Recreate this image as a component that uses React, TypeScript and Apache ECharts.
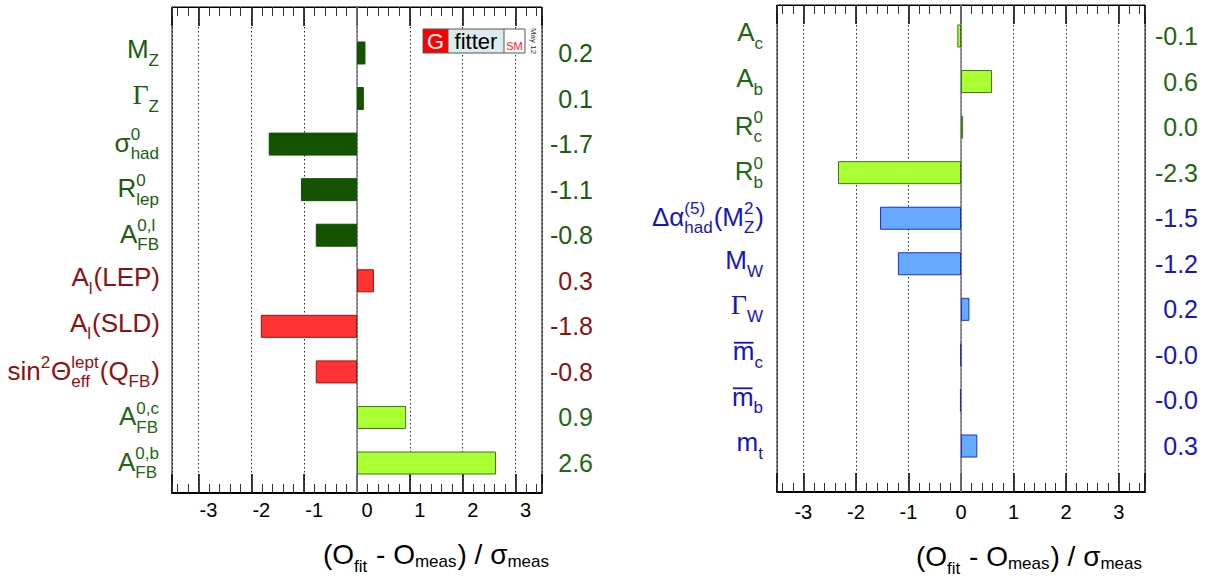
import React, { useEffect, useRef } from 'react';
import * as echarts from 'echarts';

// ---------------- data ----------------
const leftCategories = [
  'M_{Z}',
  'Γ_{Z}',
  'σ^{0}_{had}',
  'R^{0}_{lep}',
  'A^{0,l}_{FB}',
  'A_{l}(LEP)',
  'A_{l}(SLD)',
  'sin^{2}Θ^{lept}_{eff}(Q_{FB})',
  'A^{0,c}_{FB}',
  'A^{0,b}_{FB}',
];
const leftValues = [0.16, 0.13, -1.67, -1.06, -0.78, 0.32, -1.82, -0.78, 0.93, 2.63];
const leftGroups = ['dark', 'dark', 'dark', 'dark', 'dark', 'red', 'red', 'red', 'lime', 'lime'];

const rightCategories = [
  'A_{c}',
  'A_{b}',
  'R^{0}_{c}',
  'R^{0}_{b}',
  'Δα^{(5)}_{had}(M^{2}_{Z})',
  'M_{W}',
  'Γ_{W}',
  '\\bar{m}_{c}',
  '\\bar{m}_{b}',
  'm_{t}',
];
const rightValues = [-0.07, 0.59, 0.04, -2.34, -1.54, -1.2, 0.16, -0.01, -0.02, 0.31];
const rightGroups = ['lime', 'lime', 'lime', 'lime', 'blue', 'blue', 'blue', 'blue', 'blue', 'blue'];

const axisTitle = '(O_{fit} - O_{meas}) / σ_{meas}';
const pullMin = -3.5;
const pullMax = 3.5;

// ---------------- styles ----------------
const groupStyle: Record<string, { fill: string; border: string; text: string }> = {
  dark: { fill: '#135200', border: '#135200', text: '#1d5c0f' },
  red: { fill: '#ff3333', border: '#a01010', text: '#8c1212' },
  lime: { fill: '#aaff33', border: '#3a7a18', text: '#246614' },
  blue: { fill: '#66aaff', border: '#1a30cc', text: '#1616c0' },
};
const SANS = '"Liberation Sans", Arial, Helvetica, sans-serif';
const SERIF = '"Liberation Serif", "Times New Roman", serif';

type Seg =
  | { kind: 'main'; text: string; bar?: boolean }
  | { kind: 'script'; sup?: string; sub?: string };

function parseMarkup(s: string): Seg[] {
  const segs: Seg[] = [];
  let i = 0;
  let buf = '';
  const flush = () => {
    if (buf) {
      segs.push({ kind: 'main', text: buf });
      buf = '';
    }
  };
  const readGroup = () => {
    if (s[i] === '{') {
      const j = s.indexOf('}', i);
      const g = s.slice(i + 1, j);
      i = j + 1;
      return g;
    }
    return s[i++];
  };
  while (i < s.length) {
    const c = s[i];
    if (c === '\\' && s.startsWith('\\bar', i)) {
      flush();
      i += 4;
      segs.push({ kind: 'main', text: readGroup(), bar: true });
      continue;
    }
    if (c === '_' || c === '^') {
      flush();
      const last = segs[segs.length - 1] as any;
      let target: any;
      if (last && last.kind === 'script' && !(c === '_' ? last.sub : last.sup)) target = last;
      else {
        target = { kind: 'script' };
        segs.push(target);
      }
      i++;
      const g = readGroup();
      if (c === '_') target.sub = g;
      else target.sup = g;
      continue;
    }
    buf += c;
    i++;
  }
  flush();
  return segs;
}

let measureCtx: CanvasRenderingContext2D | null = null;
function textWidth(t: string, size: number, family: string) {
  if (!measureCtx) measureCtx = document.createElement('canvas').getContext('2d');
  measureCtx!.font = `${size}px ${family}`;
  return measureCtx!.measureText(t).width;
}

function buildLabel(
  markup: string,
  rightX: number,
  centerY: number,
  color: string,
  F: number,
  S: number,
  opts: { rise?: number; drop?: (t: string) => number; baseline?: number } = {}
) {
  const segs = parseMarkup(markup);
  const rise = opts.rise ?? 11;
  const dropFn = opts.drop ?? (() => 8);
  const pieces: any[] = [];
  let x = 0;
  let top = -0.72 * F;
  let bottom = 0;
  for (const seg of segs) {
    if (seg.kind === 'main') {
      const runs = seg.text.split(/(Γ)/).filter(Boolean);
      for (const r of runs) {
        const fam = r === 'Γ' ? SERIF : SANS;
        const size = r === 'Γ' ? F + 2 : F;
        const w = textWidth(r, size, fam);
        pieces.push({ text: r, x, base: 0, size, family: fam, bar: seg.bar, w });
        x += w;
      }
    } else {
      let w = 0;
      if (seg.sup) {
        w = Math.max(w, textWidth(seg.sup, S, SANS));
        pieces.push({ text: seg.sup, x, base: -rise, size: S, family: SANS });
        top = Math.min(top, -rise - 0.72 * S);
      }
      if (seg.sub) {
        const d = dropFn(seg.sub);
        w = Math.max(w, textWidth(seg.sub, S, SANS));
        pieces.push({ text: seg.sub, x, base: d, size: S, family: SANS });
        bottom = Math.max(bottom, d);
      }
      x += w + 1;
    }
  }
  const x0 = rightX - x;
  const baseline = opts.baseline ?? centerY - (top + bottom) / 2;
  const els: any[] = [];
  for (const p of pieces) {
    els.push({
      type: 'text',
      x: x0 + p.x,
      y: baseline + p.base - 0.3465 * p.size,
      silent: true,
      style: {
        text: p.text,
        fill: color,
        fontSize: p.size,
        fontFamily: p.family,
        align: 'left',
        verticalAlign: 'middle',
      },
    });
    if (p.bar) {
      const yb = baseline - 0.52 * F - 4;
      els.push({
        type: 'line',
        silent: true,
        shape: { x1: x0 + p.x + 1, y1: yb, x2: x0 + p.x + p.w - 1, y2: yb },
        style: { stroke: color, lineWidth: 1.8 },
      });
    }
  }
  return els;
}

const panels = [
  {
    frame: { left: 172, right: 665, top: 7, bottom: 86 },
    bars: { left: 172, right: 665, top: 30.2, bottom: 93.2 },
    cats: leftCategories,
    vals: leftValues,
    groups: leftGroups,
    tickLabelPad: 20,
    tickLabelMargin: 7,
    valueMargin: 51,
    labelRight: 160,
    titleRight: 550,
    titleBaseline: 564,
  },
  {
    frame: { left: 777, right: 62, top: 5, bottom: 87 },
    bars: { left: 777, right: 62, top: 13.2, bottom: 110.2 },
    cats: rightCategories,
    vals: rightValues,
    groups: rightGroups,
    tickLabelPad: 0,
    tickLabelMargin: 10,
    valueMargin: 53,
    labelRight: 764,
    titleRight: 1143,
    titleBaseline: 566,
  },
];

function buildOption() {
  const grid: any[] = [];
  const xAxis: any[] = [];
  const yAxis: any[] = [];
  const series: any[] = [];
  const catAxisIdx: number[] = [];
  panels.forEach((p) => {
    const gF = grid.length;
    grid.push({ ...p.frame, show: true, borderColor: '#000', borderWidth: 1 });
    const gB = grid.length;
    grid.push({ ...p.bars, show: false });
    const base = { type: 'value', min: pullMin, max: pullMax, gridIndex: gF };
    const majorTick = { show: true, inside: true, length: 19, lineStyle: { color: '#000', width: 1.5 } };
    const minorTick = { show: true, inside: true, length: 9, lineStyle: { color: '#333', width: 1 } };
    const xMajor = xAxis.length;
    xAxis.push({
      ...base,
      position: 'bottom',
      splitNumber: 7,
      axisLine: { show: true, onZero: false, lineStyle: { color: '#000', width: 2 } },
      axisTick: majorTick,
      axisLabel: {
        show: true,
        formatter: (v: number) => (Number.isInteger(v) ? String(v) : ''),
        fontSize: 20,
        color: '#000',
        fontFamily: SANS,
        margin: p.tickLabelMargin,
        padding: [0, 0, 0, p.tickLabelPad],
      },
      splitLine: { show: true, lineStyle: { color: '#222', type: [1.5, 2.5], width: 1 } },
    });
    xAxis.push({
      ...base,
      position: 'bottom',
      splitNumber: 35,
      axisLine: { show: false },
      axisTick: minorTick,
      axisLabel: { show: false },
      splitLine: { show: false },
    });
    xAxis.push({
      ...base,
      position: 'top',
      splitNumber: 7,
      axisLine: { show: true, onZero: false, lineStyle: { color: '#000', width: 1 } },
      axisTick: majorTick,
      axisLabel: { show: false },
      splitLine: { show: false },
    });
    xAxis.push({
      ...base,
      position: 'top',
      splitNumber: 35,
      axisLine: { show: false },
      axisTick: minorTick,
      axisLabel: { show: false },
      splitLine: { show: false },
    });
    const xBar = xAxis.length;
    xAxis.push({ type: 'value', min: pullMin, max: pullMax, gridIndex: gB, show: false });

    const yFrame = yAxis.length;
    yAxis.push({ type: 'value', min: 0, max: 1, gridIndex: gF, show: false });
    const yCat = yAxis.length;
    catAxisIdx.push(yCat);
    yAxis.push({ type: 'category', gridIndex: gB, data: p.cats, inverse: true, show: false });
    yAxis.push({
      type: 'category',
      gridIndex: gB,
      data: p.vals.map((v) => v.toFixed(1)),
      inverse: true,
      position: 'right',
      axisLine: { show: false },
      axisTick: { show: false },
      splitLine: { show: false },
      axisLabel: {
        margin: p.valueMargin,
        align: 'right',
        fontSize: 25,
        fontFamily: SANS,
        color: (_v: any, idx: number) => groupStyle[p.groups[idx]].text,
      },
    });

    series.push({
      type: 'line',
      xAxisIndex: xMajor,
      yAxisIndex: yFrame,
      data: [
        [0, 0],
        [0, 1],
      ],
      symbol: 'none',
      silent: true,
      z: 1,
      lineStyle: { color: '#777', width: 1.5 },
    });
    series.push({
      type: 'bar',
      xAxisIndex: xBar,
      yAxisIndex: yCat,
      barWidth: 23,
      z: 2,
      data: p.vals.map((v, i) => ({
        value: v,
        itemStyle: {
          color: groupStyle[p.groups[i]].fill,
          borderColor: groupStyle[p.groups[i]].border,
          borderWidth: 1,
        },
      })),
    });
  });
  return { option: { animation: false, backgroundColor: '#fff', grid, xAxis, yAxis, series }, catAxisIdx };
}

function logoElements() {
  const x = 423;
  const y = 29;
  const h = 24;
  return [
    { type: 'rect', shape: { x, y, width: 25, height: h }, style: { fill: '#ff0000' }, z: 10 },
    { type: 'rect', shape: { x: x + 25, y, width: 56, height: h }, style: { fill: '#dcecec' }, z: 10 },
    { type: 'rect', shape: { x: x + 81, y, width: 21, height: h }, style: { fill: '#ffffff' }, z: 10 },
    { type: 'rect', shape: { x, y, width: 102, height: h }, style: { fill: 'none', stroke: '#555', lineWidth: 1 }, z: 11 },
    { type: 'line', shape: { x1: x + 25, y1: y, x2: x + 25, y2: y + h }, style: { stroke: '#555', lineWidth: 1 }, z: 11 },
    { type: 'line', shape: { x1: x + 81, y1: y, x2: x + 81, y2: y + h }, style: { stroke: '#555', lineWidth: 1 }, z: 11 },
    {
      type: 'text', x: x + 12.5, y: y + 12.5, z: 12,
      style: { text: 'G', fill: '#fff', fontSize: 22, fontFamily: SANS, align: 'center', verticalAlign: 'middle' },
    },
    {
      type: 'text', x: x + 53, y: y + 12, z: 12,
      style: { text: 'fitter', fill: '#000', fontSize: 22, fontFamily: SANS, align: 'center', verticalAlign: 'middle' },
    },
    {
      type: 'text', x: x + 91.5, y: y + 17, z: 12,
      style: { text: 'SM', fill: '#ff2020', fontSize: 11, fontFamily: SANS, align: 'center', verticalAlign: 'middle' },
    },
    {
      type: 'text', x: x + 110, y: y + 12, z: 12, rotation: -Math.PI / 2,
      style: { text: 'May 12', fill: '#333', fontSize: 8, fontFamily: SANS, align: 'center', verticalAlign: 'middle' },
    },
  ];
}

export default function App() {
  const ref = useRef<HTMLDivElement>(null);
  useEffect(() => {
    if (!ref.current) return;
    const chart = echarts.init(ref.current, null, { renderer: 'svg' });
    const { option, catAxisIdx } = buildOption();
    chart.setOption(option);
    const gfx: any[] = [];
    panels.forEach((p, k) => {
      p.cats.forEach((m, i) => {
        const cy = chart.convertToPixel({ yAxisIndex: catAxisIdx[k] } as any, i) as unknown as number;
        gfx.push(...buildLabel(m, p.labelRight, cy, groupStyle[p.groups[i]].text, 26, 17));
      });
      gfx.push(
        ...buildLabel(axisTitle, p.titleRight, 0, '#000', 28, 17, {
          baseline: p.titleBaseline,
          drop: (t) => (t === 'fit' ? 8 : 3),
        })
      );
    });
    gfx.push(...logoElements());
    chart.setOption({ graphic: gfx });
    return () => chart.dispose();
  }, []);
  return (
    <div
      ref={ref}
      style={{ position: 'absolute', left: 0, top: 0, width: 1207, height: 579, background: '#fff' }}
    />
  );
}
